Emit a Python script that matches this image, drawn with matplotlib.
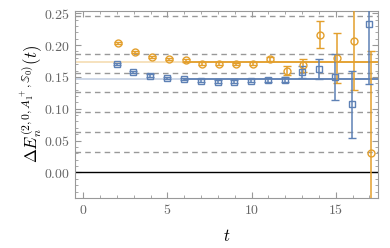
import numpy as np
import matplotlib
matplotlib.use("Agg")
import matplotlib.pyplot as plt
from matplotlib.ticker import MultipleLocator, FuncFormatter

plt.rcParams['mathtext.fontset'] = 'cm'
plt.rcParams['font.family'] = ['DejaVu Serif']

# data
t = np.arange(2, 18)
orange_y = [0.203, 0.189, 0.181, 0.178, 0.176, 0.171, 0.171, 0.170,
            0.171, 0.178, 0.160, 0.168, 0.216, 0.180, 0.206, 0.031]
orange_err = [0.002, 0.002, 0.002, 0.002, 0.002, 0.002, 0.002, 0.002,
              0.002, 0.003, 0.007, 0.010, 0.021, 0.039, 0.076, 0.160]
blue_y = [0.170, 0.158, 0.152, 0.148, 0.147, 0.144, 0.1425, 0.1425,
          0.144, 0.145, 0.1455, 0.158, 0.162, 0.150, 0.107, 0.233]
blue_err = [0.002, 0.002, 0.002, 0.002, 0.002, 0.002, 0.002, 0.002,
            0.002, 0.003, 0.004, 0.009, 0.016, 0.036, 0.053, 0.094]

# fit results
orange_fit, orange_fit_err = 0.173, 0.0016
blue_fit, blue_fit_err = 0.146, 0.0016
fit_start = 6

# non-interacting levels (dashed)
levels = [0.0314, 0.0629, 0.0943, 0.1258, 0.1566, 0.1865, 0.2458]

ORANGE = "#e39f2c"
BLUE = "#5e81b5"

fig = plt.figure(figsize=(3.9, 2.48), dpi=100)
ax = fig.add_axes([0.192, 0.202, 0.777, 0.755])

xmin, xmax = -0.5, 17.5
for lv in levels:
    ax.axhline(lv, color="#999999", lw=1.0, ls=(0, (4, 3)), zorder=1)
ax.axhline(0, color="black", lw=1.0, zorder=2)

# fit bands: light across the whole range, dark over the fit window
for val, err, col in [(orange_fit, orange_fit_err, ORANGE), (blue_fit, blue_fit_err, BLUE)]:
    ax.fill_between([xmin, xmax], val - err, val + err, color=col, alpha=0.3, lw=0, zorder=2)
    ax.fill_between([fit_start, xmax], val - err, val + err, color=col, alpha=0.9, lw=0, zorder=3)

ax.errorbar(t + 0.08, orange_y, yerr=orange_err, fmt="o", mfc="none", mec=ORANGE,
            ecolor=ORANGE, ms=5, mew=1.0, elinewidth=1.1, capsize=3, capthick=1.0, zorder=4)
ax.errorbar(t - 0.02, blue_y, yerr=blue_err, fmt="s", mfc="none", mec=BLUE,
            ecolor=BLUE, ms=4.5, mew=1.0, elinewidth=1.1, capsize=3, capthick=1.0, zorder=4)

ax.set_xlim(xmin, xmax)
ax.set_ylim(-0.04, 0.254)
ax.xaxis.set_major_locator(MultipleLocator(5))
ax.xaxis.set_minor_locator(MultipleLocator(1))
ax.yaxis.set_major_locator(MultipleLocator(0.05))
ax.yaxis.set_minor_locator(MultipleLocator(0.01))
ax.xaxis.set_major_formatter(FuncFormatter(lambda v, p: f"${v:.0f}$"))
ax.yaxis.set_major_formatter(FuncFormatter(lambda v, p: f"${v:.2f}$"))
ax.tick_params(which="both", direction="in", top=True, right=True, color="#999999",
               labelcolor="#666666", labelsize=10)
ax.tick_params(which="major", length=4)
ax.tick_params(which="minor", length=2)
for s in ax.spines.values():
    s.set_color("#999999")

ax.set_xlabel(r"$t$", fontsize=12, labelpad=8)
ax.set_ylabel(r"$\Delta E_n^{(2,0,A_1^+,\mathbb{S}_0)}(t)$", fontsize=12, labelpad=-1)

fig.savefig("out.png", dpi=100)
